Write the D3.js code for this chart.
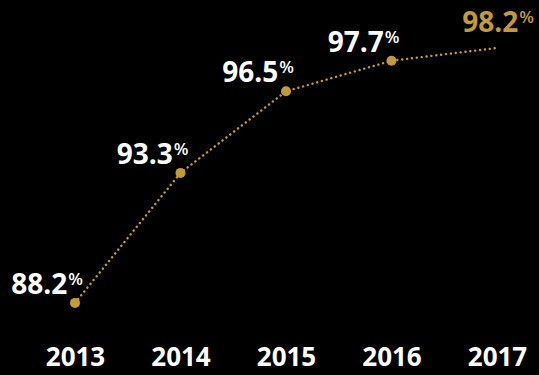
<!DOCTYPE html>
<html>
<head>
<meta charset="utf-8">
<script src="https://cdn.jsdelivr.net/npm/d3@7"></script>
<style>
  html, body { margin: 0; padding: 0; background: #000; }
  svg { display: block; font-family: "Open Sans", sans-serif; }
</style>
</head>
<body>
<svg id="chart" width="539" height="375"></svg>
<script>
// data
var years = ["2013", "2014", "2015", "2016", "2017"];
var rates = [88.2, 93.3, 96.5, 97.7, 98.2];

var gold = "#c39a36";
var svg = d3.select("#chart");

var x = d3.scalePoint().domain(years).range([75, 497]);
var y = d3.scaleLinear().domain([88, 99]).range([308, 27.6]);

var pts = years.map(function(d, i) { return { year: d, v: rates[i], last: i === years.length - 1 }; });

// dotted line
var line = d3.line().x(function(d) { return x(d.year); }).y(function(d) { return y(d.v); });
svg.append("path").datum(pts)
  .attr("d", line)
  .attr("fill", "none")
  .attr("stroke", gold)
  .attr("stroke-width", 2.4)
  .attr("stroke-linecap", "round")
  .attr("stroke-dasharray", "0.1,4.8");

// markers (no marker on the last year)
svg.selectAll("circle.pt").data(pts.filter(function(d) { return !d.last; }))
  .enter().append("circle")
  .attr("class", "pt")
  .attr("cx", function(d) { return x(d.year); })
  .attr("cy", function(d) { return y(d.v); })
  .attr("r", 5)
  .attr("fill", gold);

// value labels
var lab = svg.selectAll("text.val").data(pts).enter().append("text")
  .attr("class", "val")
  .attr("text-anchor", "end")
  .attr("x", function(d) { return d.last ? x(d.year) + 37 : x(d.year) + 8; })
  .attr("y", function(d) { return d.last ? y(d.v) - 16 : y(d.v) - 9; })
  .attr("fill", function(d) { return d.last ? gold : "#fff"; })
  .style("font-weight", 700)
  .style("font-size", "28px");
lab.append("tspan").text(function(d) { return d.v.toFixed(1); });
lab.append("tspan").text("%").attr("dy", -9).attr("dx", 1).style("font-size", "17px").style("font-weight", 600);

// x axis
var ax = svg.append("g").attr("transform", "translate(0,348)")
  .call(d3.axisBottom(x).tickSize(0).tickPadding(0));
ax.select(".domain").remove();
ax.selectAll("text")
  .attr("fill", "#fff")
  .attr("dy", "0.71em")
  .style("font-family", "Open Sans, sans-serif")
  .style("font-weight", 700)
  .style("font-size", "26px");
</script>
</body>
</html>
